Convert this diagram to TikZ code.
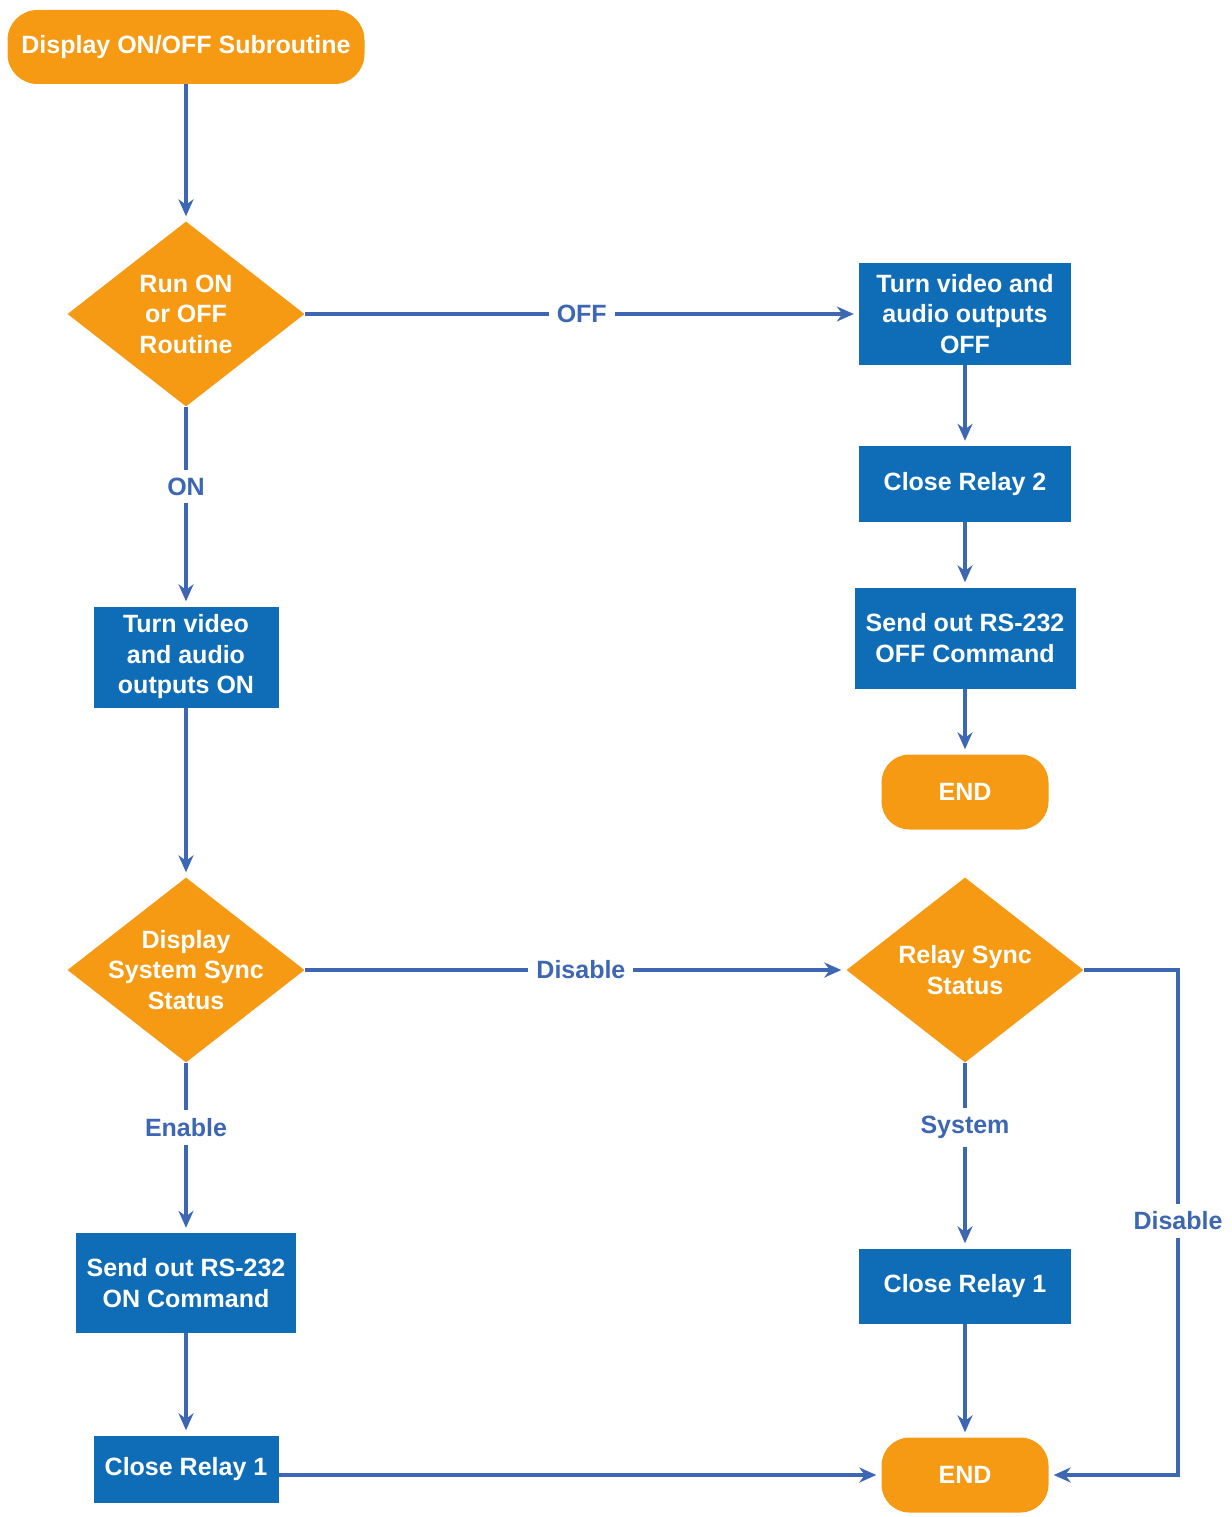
\documentclass[tikz,border=0pt]{standalone}
\usepackage{fontspec}
\setmainfont{Liberation Sans}
\usetikzlibrary{shapes.geometric,arrows.meta,calc}
\definecolor{orng}{HTML}{F59A12}
\definecolor{boxb}{HTML}{0F6DB7}
\definecolor{lineb}{HTML}{3D66B3}
\tikzset{
  txt/.style={font=\fontsize{25}{30.5}\selectfont\bfseries, align=center},
  term/.style={txt, fill=orng, text=white, rounded corners=30pt, inner sep=0pt},
  proc/.style={txt, fill=boxb, text=white, inner sep=0pt},
  dec/.style={diamond, fill=orng, inner sep=0pt, minimum width=237pt, minimum height=185pt},
  dtext/.style={txt, text=white},
  lbl/.style={txt, text=lineb, fill=white, inner sep=8pt},
  flow/.style={draw=lineb, line width=3.5pt, -{Stealth[length=17pt,width=15pt]}, shorten >=5pt},
}
\begin{document}
\begin{tikzpicture}[x=1pt,y=-1pt]
\useasboundingbox (0,0) rectangle (1231,1517);
% nodes
\node[term, minimum width=357pt, minimum height=74pt] (start) at (186,47) {Display ON/OFF Subroutine};
\node[dec] (d1) at (186,314) {};
\node[dtext] (d1t) at (d1) {Run ON\\or OFF\\Routine};
\node[proc, minimum width=212pt, minimum height=102pt] (off1) at (965,314) {Turn video and\\audio outputs\\OFF};
\node[proc, minimum width=212pt, minimum height=76pt] (cr2) at (965,484) {Close Relay 2};
\node[proc, minimum width=221pt, minimum height=101pt] (soff) at (965,638) {Send out RS-232\\OFF Command};
\node[term, minimum width=167pt, minimum height=75pt, rounded corners=28pt] (end1) at (965,792) {END};
\node[proc, minimum width=185pt, minimum height=101pt] (on1) at (186,657) {Turn video\\and audio\\outputs ON};
\node[dec] (d2) at (186,970) {};
\node[dtext] (d2t) at (d2) {Display\\System Sync\\Status};
\node[dec] (d3) at (965,970) {};
\node[dtext] (d3t) at (d3) {Relay Sync\\Status};
\node[proc, minimum width=220pt, minimum height=100pt] (son) at (186,1283) {Send out RS-232\\ON Command};
\node[proc, minimum width=185pt, minimum height=67pt] (cr1l) at (186,1469) {Close Relay 1};
\node[proc, minimum width=212pt, minimum height=75pt] (cr1r) at (965,1286) {Close Relay 1};
\node[term, minimum width=167pt, minimum height=75pt, rounded corners=28pt] (end2) at (965,1475) {END};
\coordinate (loop) at (1178,1221);
% connectors
\draw[flow] (start) -- (d1);
\draw[flow] (d1.east) -- node[lbl, pos=0.5] (lOFF) {OFF} (off1.west);
\draw[flow] (off1) -- (cr2);
\draw[flow] (cr2) -- (soff);
\draw[flow] (soff) -- (end1);
\draw[flow] (d1.south) -- node[lbl, pos=0.4] (lON) {ON} (on1.north);
\draw[flow] (on1) -- (d2);
\draw[flow] (d2.east) -- node[lbl, pos=0.51] (lDis) {Disable} (d3.west);
\draw[flow] (d2.south) -- node[lbl, pos=0.38] (lEn) {Enable} (son.north);
\draw[flow] (son) -- (cr1l);
\draw[flow] (cr1l.east |- end2.west) -- (end2.west);
\draw[flow] (d3.south) -- node[lbl, pos=0.35] (lSys) {System} (cr1r.north);
\draw[flow] (cr1r) -- (end2);
\draw[flow] (d3.east) -| (loop) |- (end2.east);
\node[lbl] (lDis2) at (loop) {Disable};
\end{tikzpicture}
\end{document}
